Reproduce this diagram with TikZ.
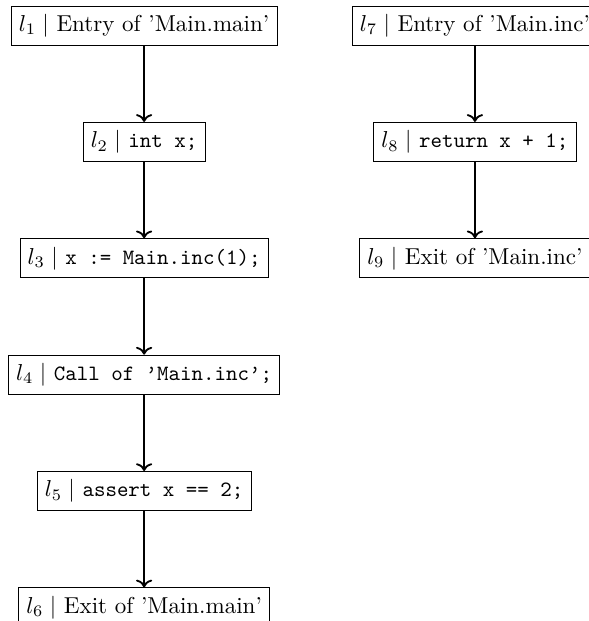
\documentclass[tikz,border=0pt]{standalone}
\usepackage{amsmath, amssymb}
\usetikzlibrary{positioning, arrows.meta}

\newcommand{\stmtcode}[1]{{\fontsize{9.5}{11}\selectfont\ttfamily #1}}

\begin{document}
\begin{tikzpicture}[
    node distance=1.165cm,
    stmt/.style={draw, rectangle, minimum height=17pt},
    flow/.style={->, thick}
]
    \useasboundingbox (-2.2,0.39) rectangle (6.79,-9.09);

    % Arrange statements of 'Main.main'
    \node[stmt] (l1) at (0,0) {$l_1 \mid$ Entry of 'Main.main'};
    \node[stmt, below=of l1] (l2) {$l_2 \mid$ \stmtcode{int x;}};
    \node[stmt, below=of l2] (l3) {$l_3 \mid$ \stmtcode{x := Main.inc(1);}};
    \node[stmt, below=of l3] (l4) {$l_4 \mid$ \stmtcode{Call of ’Main.inc’;}};
    \node[stmt, below=of l4] (l5) {$l_5 \mid$ \stmtcode{assert x == 2;}};
    \node[stmt, below=of l5] (l6) {$l_6 \mid$ Exit of 'Main.main'};

    % Arrange statements of 'Main.inc'
    \node[stmt] (l7) at (5.05,0) {$l_7 \mid$ Entry of 'Main.inc'};
    \node[stmt, below=of l7] (l8) {$l_8 \mid$ \stmtcode{return x + 1;}};
    \node[stmt, below=of l8] (l9) {$l_9 \mid$ Exit of 'Main.inc'};

    % Control flow
    \path[flow]
        (l1) edge (l2)
        (l2) edge (l3)
        (l3) edge (l4)
        (l4) edge (l5)
        (l5) edge (l6)
        (l7) edge (l8)
        (l8) edge (l9);
\end{tikzpicture}
\end{document}
